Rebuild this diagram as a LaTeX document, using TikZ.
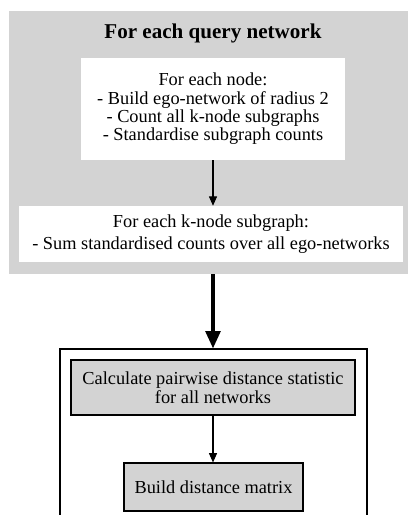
\documentclass[tikz,border=0pt]{standalone}
\usepackage{fontspec}
\setmainfont{Liberation Serif}
\definecolor{panelgray}{RGB}{211, 211, 211}
\usetikzlibrary{arrows.meta, positioning}

\begin{document}
\begin{tikzpicture}[
  x=0.75pt, y=-0.75pt,
  wbox/.style={fill=white, align=center, inner sep=0pt, font=\fontsize{13.75}{13.75}\selectfont},
  gbox/.style={draw=black, fill=panelgray, align=center, inner sep=0pt, line width=0.8pt, font=\fontsize{13.75}{14.6}\selectfont},
  flow/.style={-{Triangle[length=7pt, width=6pt]}, line width=0.8pt},
  bigflow/.style={-{Triangle[length=13pt, width=11pt]}, line width=2.6pt}
]
  \clip (0,0) rectangle (408,515);
  \fill[white] (0,0) rectangle (408,515);

  % query network panel
  \node[fill=panelgray, minimum width=299.25pt, minimum height=197.25pt, inner sep=0pt] (panel) at (208.5,142.5) {};
  \node[font=\fontsize{15.8}{17}\selectfont\bfseries] (title) at (213,33) {For each query network};
  \node[wbox, minimum width=198pt, minimum height=76.5pt] (egonet) at (213,109) {
    For each node:\\
    - Build ego-network of radius 2\\
    - Count all k-node subgraphs\\
    - Standardise subgraph counts
  };
  \node[wbox, minimum width=288pt, minimum height=42pt, font=\fontsize{13.75}{16.2}\selectfont] (sumcount) at (211,234) {
    For each k-node subgraph:\\
    - Sum standardised counts over all ego-networks
  };

  % comparison part
  \node[draw=black, line width=0.8pt, minimum width=230.25pt, minimum height=135pt, inner sep=0pt] (compare) at (213.5,439) {};
  \node[gbox, minimum width=213pt, minimum height=41.25pt] (pairwise) at (213,387.5) {
    Calculate pairwise distance statistic\\
    for all networks
  };
  \node[gbox, minimum width=134.25pt, minimum height=36pt] (matrix) at (213.5,487) {Build distance matrix};

  \draw[flow] (egonet.south -| 213,0) -- (sumcount.north -| 213,0);
  \draw[bigflow] (panel.south -| 213,0) -- (compare.north -| 213,0);
  \draw[flow] (pairwise.south -| 213,0) -- (matrix.north -| 213,0);
\end{tikzpicture}
\end{document}
